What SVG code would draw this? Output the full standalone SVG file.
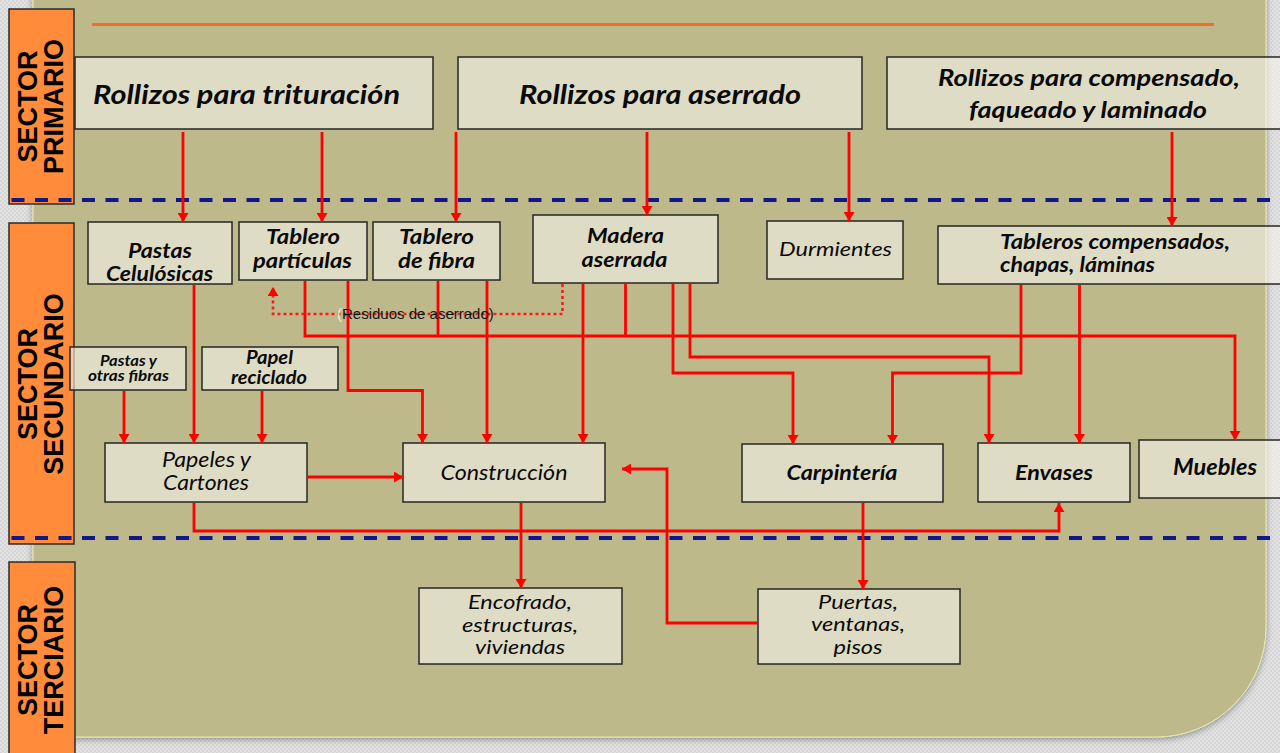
<svg xmlns="http://www.w3.org/2000/svg" width="1280" height="753" viewBox="0 0 1280 753">
<defs>
<pattern id="chk" width="4" height="4" patternUnits="userSpaceOnUse">
<rect width="4" height="4" fill="#E2E2E2"/>
<rect width="2" height="2" fill="#D6D6D6"/>
<rect x="2" y="2" width="2" height="2" fill="#D6D6D6"/>
</pattern>
<filter id="sh" x="-5%" y="-5%" width="110%" height="110%">
<feDropShadow dx="0" dy="2" stdDeviation="3" flood-color="#000" flood-opacity="0.35"/>
</filter>
<marker id="ah" markerUnits="userSpaceOnUse" markerWidth="9" markerHeight="11" viewBox="0 0 9 11" refX="9" refY="5.5" orient="auto">
<path d="M0,0 L9,5.5 L0,11 z" fill="#FF0000"/>
</marker>
</defs>
<style>
.sec{fill:#FF8B3B;stroke:#2B2B2B;stroke-width:1.5}
.st{font-family:"Liberation Sans",Arial,sans-serif;font-weight:bold;font-size:27px;fill:#000;text-anchor:middle}
.bx{fill:#F3F2EA;fill-opacity:0.62;stroke:#262626;stroke-width:1.5}
.t{font-family:Lato,"Open Sans",sans-serif;font-style:italic;fill:#0A0A0A;text-anchor:middle}
.b{font-weight:bold}
.r{font-weight:normal}
.c{fill:none;stroke:#FF0000;stroke-width:2.8}
.d{fill:none;stroke:#FF1A1A;stroke-width:2.6;stroke-dasharray:3 3}
.dash{stroke:#12178A;stroke-width:4;stroke-dasharray:13 10.5}
</style>
<rect width="1280" height="753" fill="url(#chk)"/>
<path d="M33,-10 H1266 V627 A110,110 0 0 1 1156,737 H33 Z" fill="#BDB98B" stroke="#EDE9A6" stroke-width="1" filter="url(#sh)"/>
<line x1="92" y1="24.5" x2="1214" y2="24.5" stroke="#F26E20" stroke-width="3"/>

<g id="sector-primario">
<rect class="sec" x="9" y="9" width="65" height="195"/>
<text class="st" transform="translate(37,106.5) rotate(-90)">SECTOR</text>
<text class="st" transform="translate(63,106.5) rotate(-90)">PRIMARIO</text>
</g>
<g id="sector-secundario">
<rect class="sec" x="9" y="223" width="65" height="321"/>
<text class="st" transform="translate(37,384) rotate(-90)">SECTOR</text>
<text class="st" transform="translate(63,384) rotate(-90)">SECUNDARIO</text>
</g>
<g id="sector-terciario">
<rect class="sec" x="9" y="562" width="66" height="200"/>
<text class="st" transform="translate(37,660) rotate(-90)">SECTOR</text>
<text class="st" transform="translate(63,660) rotate(-90)">TERCIARIO</text>
</g>

<g id="dividers">
<line class="dash" x1="11.5" y1="200" x2="1280" y2="200"/>
<line class="dash" x1="11.5" y1="538" x2="1280" y2="538"/>
</g>

<g id="n-trituracion">
<rect class="bx" x="75" y="57" width="358" height="72"/>
<text class="t b" x="246.5" y="104" font-size="27" textLength="307" lengthAdjust="spacingAndGlyphs">Rollizos para trituración</text>
</g>
<g id="n-aserrado">
<rect class="bx" x="458" y="57" width="404" height="72"/>
<text class="t b" x="660" y="104" font-size="27" textLength="282" lengthAdjust="spacingAndGlyphs">Rollizos para aserrado</text>
</g>
<g id="n-compensado">
<rect class="bx" x="887" y="57" width="400" height="72"/>
<text class="t b" x="1089" y="86" font-size="23.5" textLength="302" lengthAdjust="spacingAndGlyphs">Rollizos para compensado,</text>
<text class="t b" x="1088" y="118" font-size="23.5" textLength="238" lengthAdjust="spacingAndGlyphs">faqueado y laminado</text>
</g>

<g id="n-pastas-celulosicas">
<rect class="bx" x="88" y="222" width="144" height="62"/>
<text class="t b" x="160" y="258" font-size="21" textLength="64" lengthAdjust="spacingAndGlyphs">Pastas</text>
<text class="t b" x="159.5" y="281" font-size="21" textLength="107" lengthAdjust="spacingAndGlyphs">Celulósicas</text>
</g>
<g id="n-tablero-particulas">
<rect class="bx" x="239" y="222" width="128" height="58"/>
<text class="t b" x="303" y="244" font-size="20.5" textLength="74" lengthAdjust="spacingAndGlyphs">Tablero</text>
<text class="t b" x="302.5" y="268" font-size="20.5" textLength="99" lengthAdjust="spacingAndGlyphs">partículas</text>
</g>
<g id="n-tablero-fibra">
<rect class="bx" x="373" y="222" width="127" height="58"/>
<text class="t b" x="436.5" y="244" font-size="20.5" textLength="75" lengthAdjust="spacingAndGlyphs">Tablero</text>
<text class="t b" x="436.5" y="268" font-size="20.5" textLength="77" lengthAdjust="spacingAndGlyphs">de fibra</text>
</g>
<g id="n-madera-aserrada">
<rect class="bx" x="533" y="215" width="185" height="68"/>
<text class="t b" x="625.5" y="243" font-size="20" textLength="77" lengthAdjust="spacingAndGlyphs">Madera</text>
<text class="t b" x="624.5" y="267" font-size="20" textLength="86" lengthAdjust="spacingAndGlyphs">aserrada</text>
</g>
<g id="n-durmientes">
<rect class="bx" x="767" y="221" width="136" height="58"/>
<text class="t r" x="835.5" y="256" font-size="20" textLength="113" lengthAdjust="spacingAndGlyphs">Durmientes</text>
</g>
<g id="n-tableros-compensados">
<rect class="bx" x="938" y="226" width="350" height="58"/>
<text class="t b" x="1000" y="248.5" font-size="20" style="text-anchor:start" textLength="230" lengthAdjust="spacingAndGlyphs">Tableros compensados,</text>
<text class="t b" x="1000" y="271.5" font-size="20" style="text-anchor:start" textLength="155" lengthAdjust="spacingAndGlyphs">chapas, láminas</text>
</g>

<g id="n-pastas-fibras">
<rect class="bx" x="70" y="347" width="116" height="43"/>
<text class="t b" x="128.5" y="365.5" font-size="15.5" textLength="57" lengthAdjust="spacingAndGlyphs">Pastas y</text>
<text class="t b" x="128.5" y="381" font-size="15.5" textLength="81" lengthAdjust="spacingAndGlyphs">otras fibras</text>
</g>
<g id="n-papel-reciclado">
<rect class="bx" x="202" y="347" width="136" height="43"/>
<text class="t b" x="269.5" y="364" font-size="18" textLength="47" lengthAdjust="spacingAndGlyphs">Papel</text>
<text class="t b" x="269" y="383.5" font-size="18" textLength="76" lengthAdjust="spacingAndGlyphs">reciclado</text>
</g>

<g id="n-papeles-cartones">
<rect class="bx" x="105" y="443" width="202" height="59"/>
<text class="t r" x="206.5" y="467" font-size="21" textLength="89" lengthAdjust="spacingAndGlyphs">Papeles y</text>
<text class="t r" x="206" y="489.5" font-size="21" textLength="86" lengthAdjust="spacingAndGlyphs">Cartones</text>
</g>
<g id="n-construccion">
<rect class="bx" x="403" y="443" width="202" height="59"/>
<text class="t r" x="504" y="479.5" font-size="22" textLength="127" lengthAdjust="spacingAndGlyphs">Construcción</text>
</g>
<g id="n-carpinteria">
<rect class="bx" x="742" y="444" width="201" height="58"/>
<text class="t b" x="842" y="479.5" font-size="21.5" textLength="111" lengthAdjust="spacingAndGlyphs">Carpintería</text>
</g>
<g id="n-envases">
<rect class="bx" x="978" y="443" width="152" height="59"/>
<text class="t b" x="1054" y="479.5" font-size="21.5" textLength="78" lengthAdjust="spacingAndGlyphs">Envases</text>
</g>
<g id="n-muebles">
<rect class="bx" x="1139" y="440" width="150" height="58"/>
<text class="t b" x="1215" y="475" font-size="22" textLength="84" lengthAdjust="spacingAndGlyphs">Muebles</text>
</g>

<g id="n-encofrado">
<rect class="bx" x="419" y="588" width="203" height="76"/>
<text class="t r" x="520" y="609" font-size="20" textLength="104" lengthAdjust="spacingAndGlyphs">Encofrado,</text>
<text class="t r" x="520" y="632" font-size="20" textLength="116" lengthAdjust="spacingAndGlyphs">estructuras,</text>
<text class="t r" x="520" y="654" font-size="20" textLength="90" lengthAdjust="spacingAndGlyphs">viviendas</text>
</g>
<g id="n-puertas">
<rect class="bx" x="758" y="589" width="202" height="75"/>
<text class="t r" x="858" y="608.5" font-size="20" textLength="80" lengthAdjust="spacingAndGlyphs">Puertas,</text>
<text class="t r" x="858" y="631" font-size="20" textLength="94" lengthAdjust="spacingAndGlyphs">ventanas,</text>
<text class="t r" x="858" y="653.5" font-size="20" textLength="49" lengthAdjust="spacingAndGlyphs">pisos</text>
</g>

<g id="connectors">
<path class="c" d="M183,132 V222" marker-end="url(#ah)"/>
<path class="c" d="M322,132 V222" marker-end="url(#ah)"/>
<path class="c" d="M456,132 V222" marker-end="url(#ah)"/>
<path class="c" d="M647,132 V215" marker-end="url(#ah)"/>
<path class="c" d="M849,132 V221" marker-end="url(#ah)"/>
<path class="c" d="M1172,132 V226" marker-end="url(#ah)"/>
<path class="d" d="M562.5,284 V314 H273 V287" marker-end="url(#ah)"/>
<path class="c" d="M305,281 V336 H1235 V440" marker-end="url(#ah)"/>
<path class="c" d="M438,281 V336"/>
<path class="c" d="M625.5,284 V336"/>
<path class="c" d="M194,285 V443" marker-end="url(#ah)"/>
<path class="c" d="M348,281 V390.5 H422.5 V443" marker-end="url(#ah)"/>
<path class="c" d="M487,281 V443" marker-end="url(#ah)"/>
<path class="c" d="M583,284 V443" marker-end="url(#ah)"/>
<path class="c" d="M673,284 V373 H793 V444" marker-end="url(#ah)"/>
<path class="c" d="M690,284 V357 H989 V443" marker-end="url(#ah)"/>
<path class="c" d="M1021,285 V373 H892.5 V444" marker-end="url(#ah)"/>
<path class="c" d="M1079.5,285 V443" marker-end="url(#ah)"/>
<path class="c" d="M124,391 V443" marker-end="url(#ah)"/>
<path class="c" d="M262,391 V443" marker-end="url(#ah)"/>
<path class="c" d="M307,477 H403" marker-end="url(#ah)"/>
<path class="c" d="M194,503 V531 H1059 V503" marker-end="url(#ah)"/>
<path class="c" d="M521,503 V588" marker-end="url(#ah)"/>
<path class="c" d="M863,503 V589" marker-end="url(#ah)"/>
<path class="c" d="M758,623 H667 V469 H622" marker-end="url(#ah)"/>
<text x="337" y="319" font-family="'Liberation Sans',Arial,sans-serif" font-size="15" fill="#141414"><tspan fill="#F2EFD6">(</tspan>Residuos de aserrado)</text>
</g>
</svg>
